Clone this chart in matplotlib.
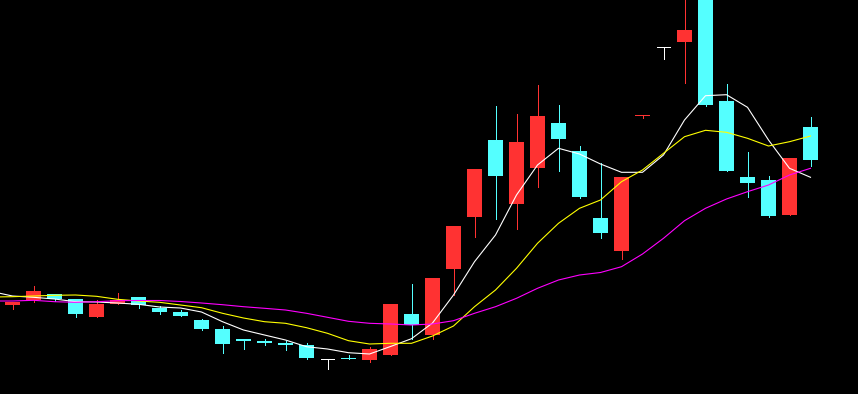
import matplotlib
matplotlib.use("Agg")
import matplotlib.pyplot as plt
import numpy as np

# candle data (price units)
opens  = [89, 94, 100, 95, 77, 90.3, 97, 86.3, 82, 74, 65, 55, 53.3, 51.3, 49, 35, 35.3, 34, 39.3, 80,
          59, 125, 177, 254, 190, 226, 271, 243, 176, 143, 278.3, 346.7, 352, 424, 293, 217, 214, 179, 267]
highs  = [92, 108, 100, 95, 94, 101.3, 97, 88, 84, 75, 68, 55, 55, 53.3, 51.3, 35, 39, 47, 90, 110,
          116, 168, 225, 288, 280, 309, 289, 248, 231, 217, 278.7, 346.7, 414, 424, 310, 242, 218, 236, 277]
lows   = [85, 92, 93.3, 77.3, 77, 90, 86.3, 80.3, 78.3, 64, 41.3, 45, 49.3, 44, 35, 25, 34.7, 32, 39, 55,
          55, 99, 157, 175, 165, 207, 223, 196, 156, 135, 276.3, 335, 311, 288, 223, 197, 177, 179, 228]
closes = [92, 103, 94.7, 80.3, 90, 94, 89, 82.3, 78.3, 65.3, 50.3, 53, 51.3, 49.3, 36.3, 35, 34.7, 45, 90, 69,
          116, 168, 225, 218, 252, 278, 255, 197, 161, 217, 278.7, 346.7, 364, 289, 223, 211, 178, 236, 234]

# moving averages, first value is the bar just left of the view
ma5  = [102.5, 98, 96.7, 95, 92.3, 92, 91, 89.7, 87, 86, 82, 72.3, 64, 59, 54, 47.3, 45, 41.3, 40, 47.5, 55.3,
        71, 99, 132.3, 159, 199, 229, 245.7, 240, 230, 221.7, 221.7, 239, 274, 298.3, 299.3, 286.7, 254, 225.7, 216.7]
ma10 = [97, 97.3, 98, 98.7, 99, 97.7, 94.7, 93, 91.7, 89, 86.3, 80.7, 76, 72.3, 70.7, 66.3, 60.7, 53.3, 50, 50.7,
        50.7, 58, 68, 87.3, 104, 125.7, 150.7, 170.7, 185.7, 194, 212.3, 224, 240.7, 257.3, 263.7, 261.7, 255.7,
        248, 252.3, 258]
ma20 = [93, 93, 93.7, 92.3, 91.7, 92.3, 93.3, 93.5, 93.5, 92.5, 91, 89.3, 87.3, 85.7, 84, 80.7, 76.7, 72.7, 70.7,
        70, 69, 70, 73.3, 80.7, 87.3, 95.7, 105.7, 114, 119, 121.5, 127.3, 140, 155.7, 173.3, 185.7, 195, 202.3,
        209, 219, 225.7]

RED = "#FF3232"
CYAN = "#54FFFF"

fig = plt.figure(figsize=(8.58, 3.94), dpi=100, facecolor="black")
ax = fig.add_axes([0, 0, 1, 1])
ax.set_facecolor("black")
ax.axis("off")

n = len(opens)
x = np.arange(n)
for i in range(n):
    o, h, l, c = opens[i], highs[i], lows[i], closes[i]
    if c > o:
        col = RED
    elif c < o:
        col = CYAN
    else:
        col = "white"
    ax.vlines(x[i], l, h, color=col, linewidth=0.72, zorder=1, antialiased=False)
    if c == o:
        ax.hlines(o, x[i] - 0.33, x[i] + 0.33, color=col, linewidth=0.72, zorder=2, antialiased=False)
    else:
        ax.bar(x[i], max(abs(c - o), 1.2), bottom=min(o, c), width=0.714, color=col,
               linewidth=0, zorder=2, antialiased=False)

xm = np.arange(-1, n)
ax.plot(xm, ma5, color="white", linewidth=0.8, zorder=3)
ax.plot(xm, ma10, color="#FFFF00", linewidth=0.8, zorder=3)
ax.plot(xm, ma20, color="#FF00FF", linewidth=0.8, zorder=3)

ax.set_xlim(-12.5 / 21, (858 - 12.5) / 21)
ax.set_ylim(0, 394)

fig.savefig("out.png", dpi=100, facecolor="black")
